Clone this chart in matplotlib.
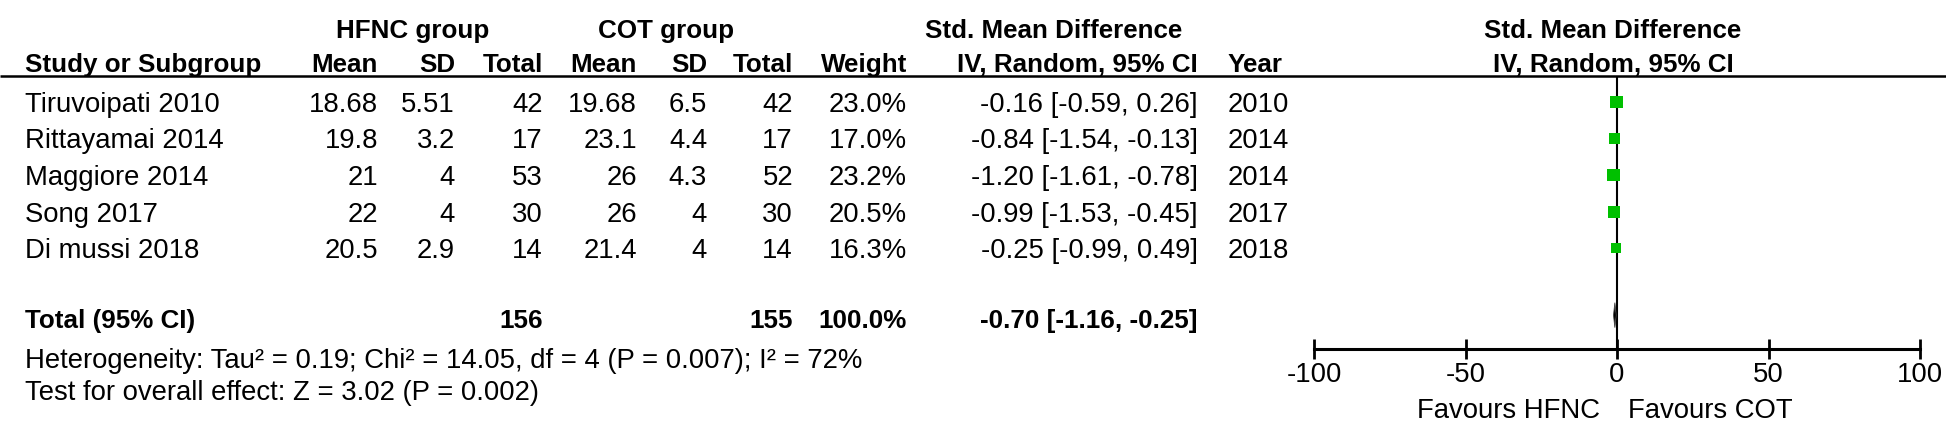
import matplotlib
matplotlib.use("Agg")
import matplotlib.pyplot as plt
from matplotlib.patches import Polygon, Rectangle

plt.rcParams['font.family'] = ['Liberation Sans', 'DejaVu Sans']

# ---------------- data ----------------
studies = ["Tiruvoipati 2010", "Rittayamai 2014", "Maggiore 2014", "Song 2017", "Di mussi 2018"]
hfnc_mean = ["18.68", "19.8", "21", "22", "20.5"]
hfnc_sd = ["5.51", "3.2", "4", "4", "2.9"]
hfnc_total = [42, 17, 53, 30, 14]
cot_mean = ["19.68", "23.1", "26", "26", "21.4"]
cot_sd = ["6.5", "4.4", "4.3", "4", "4"]
cot_total = [42, 17, 52, 30, 14]
weights = [23.0, 17.0, 23.2, 20.5, 16.3]
smd = [-0.16, -0.84, -1.20, -0.99, -0.25]
ci_lo = [-0.59, -1.54, -1.61, -1.53, -0.99]
ci_hi = [0.26, -0.13, -0.78, -0.45, 0.49]
years = [2010, 2014, 2014, 2017, 2018]

total_hfnc = 156
total_cot = 155
total_weight = "100.0%"
pooled = -0.70
pooled_lo = -1.16
pooled_hi = -0.25
heterogeneity = "Heterogeneity: Tau\u00b2 = 0.19; Chi\u00b2 = 14.05, df = 4 (P = 0.007); I\u00b2 = 72%"
overall = "Test for overall effect: Z = 3.02 (P = 0.002)"
xticks = [-100, -50, 0, 50, 100]
favours_left = "Favours HFNC"
favours_right = "Favours COT"

# ---------------- layout ----------------
W, H = 1946, 442
fig = plt.figure(figsize=(W / 100, H / 100), dpi=100)
fig.patch.set_facecolor("white")
bg = fig.add_axes([0, 0, 1, 1])
bg.set_xlim(0, W)
bg.set_ylim(H, 0)
bg.axis("off")

FS = 19.8     # normal text
FSB = 18.7    # bold text

# baselines (pixels from top)
b_h1, b_h2, y_line = 38, 72, 75
row_base = [112, 148.5, 185, 221.5, 258]
b_total, b_het, b_test = 328, 368, 400
axis_y = 349

x_study = 25
x_hm, x_hsd, x_ht = 378, 455, 543
x_cm, x_csd, x_ct = 637, 707, 793
x_w, x_ci, x_year = 907, 1198, 1228
x_plot_c = 1613

def t(x, y, s, ha="left", bold=False):
    bg.text(x, y, s, ha=ha, va="baseline", fontsize=FSB if bold else FS,
            fontweight="bold" if bold else "normal", color="black")

# headers
t(413, b_h1, "HFNC group", "center", True)
t(666, b_h1, "COT group", "center", True)
t(1054, b_h1, "Std. Mean Difference", "center", True)
t(x_plot_c, b_h1, "Std. Mean Difference", "center", True)

t(x_study, b_h2, "Study or Subgroup", "left", True)
t(x_hm, b_h2, "Mean", "right", True)
t(x_hsd, b_h2, "SD", "right", True)
t(x_ht, b_h2, "Total", "right", True)
t(x_cm, b_h2, "Mean", "right", True)
t(x_csd, b_h2, "SD", "right", True)
t(x_ct, b_h2, "Total", "right", True)
t(x_w, b_h2, "Weight", "right", True)
t(x_ci, b_h2, "IV, Random, 95% CI", "right", True)
t(x_year, b_h2, "Year", "left", True)
t(x_plot_c, b_h2, "IV, Random, 95% CI", "center", True)

bg.plot([0, W], [y_line + 1, y_line + 1], color="black", lw=1.8, solid_capstyle="butt")

for i, y in enumerate(row_base):
    t(x_study, y, studies[i])
    t(x_hm, y, hfnc_mean[i], "right")
    t(x_hsd, y, hfnc_sd[i], "right")
    t(x_ht, y, str(hfnc_total[i]), "right")
    t(x_cm, y, cot_mean[i], "right")
    t(x_csd, y, cot_sd[i], "right")
    t(x_ct, y, str(cot_total[i]), "right")
    t(x_w, y, f"{weights[i]:.1f}%", "right")
    t(x_ci, y, f"{smd[i]:.2f} [{ci_lo[i]:.2f}, {ci_hi[i]:.2f}]", "right")
    t(x_year, y, str(years[i]))

t(x_study, b_total, "Total (95% CI)", bold=True)
t(x_ht, b_total, str(total_hfnc), "right", True)
t(x_ct, b_total, str(total_cot), "right", True)
t(x_w, b_total, total_weight, "right", True)
t(x_ci, b_total, f"{pooled:.2f} [{pooled_lo:.2f}, {pooled_hi:.2f}]", "right", True)
t(x_study, b_het, heterogeneity)
t(x_study, b_test, overall)

# ---------------- forest plot ----------------
px0, px1 = 1314, 1920
top = y_line + 2
ax = fig.add_axes([px0 / W, (H - axis_y) / H, (px1 - px0) / W, (axis_y - top) / H])
ax.set_xlim(-100, 100)
ax.set_ylim(axis_y, top)
ax.patch.set_alpha(0)
for s in ["top", "left", "right"]:
    ax.spines[s].set_visible(False)
ax.spines["bottom"].set_linewidth(2.2)
ax.set_yticks([])
ax.set_xticks(xticks)
ax.set_xticklabels([str(v) for v in xticks], fontsize=FS)
ax.tick_params(axis="x", direction="inout", length=15, width=2, pad=2)

ax.axvline(0, color="black", lw=1.5, zorder=1)

cap = 0.716 * FS * 100 / 72  # cap height in px
row_c = [b - cap / 2 for b in row_base]
tot_c = b_total - cap / 2 - 3

xunits_per_px = 200 / (px1 - px0)
for i, y in enumerate(row_c):
    ax.plot([ci_lo[i], ci_hi[i]], [y, y], color="black", lw=1, zorder=2)
    side = 2.6 * weights[i] ** 0.5  # pixels, area ~ weight
    ax.add_patch(Rectangle((smd[i] - side / 2 * xunits_per_px, y - side / 2),
                           side * xunits_per_px, side,
                           facecolor="#00c000", edgecolor="none", zorder=3))

dh = 12.5
ax.add_patch(Polygon([(pooled_lo, tot_c), (pooled, tot_c - dh),
                      (pooled_hi, tot_c), (pooled, tot_c + dh)],
                     closed=True, facecolor="black", edgecolor="#444444", lw=0.6, zorder=3))

ax.text(-5.6, 418, favours_left, ha="right", va="baseline", fontsize=FS,
        transform=ax.transData, clip_on=False)
ax.text(3.6, 418, favours_right, ha="left", va="baseline", fontsize=FS,
        transform=ax.transData, clip_on=False)

fig.savefig("out.png", dpi=100, facecolor="white")
